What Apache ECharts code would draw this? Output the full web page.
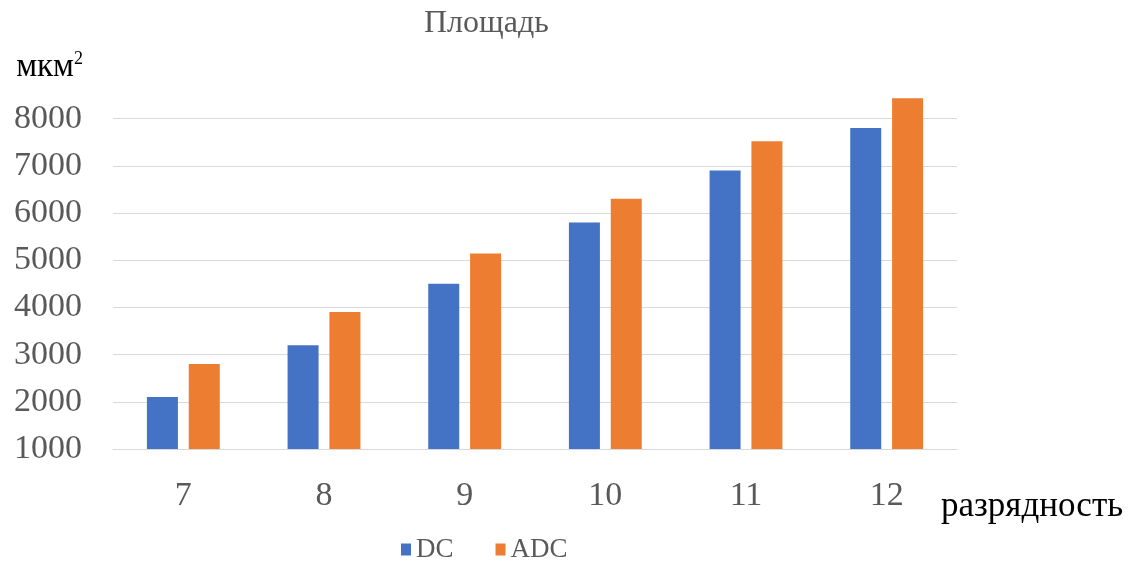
<!DOCTYPE html>
<html>
<head>
<meta charset="utf-8">
<script src="https://cdn.jsdelivr.net/npm/echarts@6/dist/echarts.min.js"></script>
<style>
  html, body { margin: 0; padding: 0; background: #fff; }
  #chart { width: 1143px; height: 570px; }
</style>
</head>
<body>
<div id="chart"></div>
<script>
// Bit depth categories
const categories = ['7', '8', '9', '10', '11', '12'];
// Area, µm²
const dcValues = [2100, 3200, 4500, 5800, 6900, 7800];
const adcValues = [2800, 3900, 5140, 6300, 7520, 8430];
// Y-axis range (top edge leaves headroom above the last labelled line)
const yMin = 1000;
const yMax = 8500;
const yStep = 1000;

const serif = '"Liberation Serif", "Times New Roman", serif';
const grey = '#595959';
const legendText = { fontFamily: serif, fontSize: 27, color: grey };

const chart = echarts.init(document.getElementById('chart'), null, { renderer: 'canvas' });

chart.setOption({
  animation: false,
  backgroundColor: '#fff',
  title: {
    text: 'Площадь',
    left: 419,
    top: 3,
    textStyle: { fontFamily: serif, fontSize: 32, fontWeight: 'normal', color: grey }
  },
  legend: {
    data: [
      { name: 'DC', textStyle: legendText },
      { name: 'ADC', textStyle: legendText }
    ],
    left: 396,
    top: 531,
    icon: 'rect',
    itemWidth: 10,
    itemHeight: 12,
    itemGap: 42,
    textStyle: legendText
  },
  grid: { left: 113, right: 186, top: 95, bottom: 121 },
  xAxis: {
    type: 'category',
    data: categories,
    name: 'разрядность',
    nameLocation: 'end',
    nameGap: -16,
    nameTextStyle: {
      fontFamily: serif, fontSize: 35, color: '#000',
      align: 'left', verticalAlign: 'top', padding: [40, 0, 0, 0]
    },
    axisLine: { show: true, lineStyle: { color: '#d9d9d9', width: 1 } },
    axisTick: { show: false },
    axisLabel: { fontFamily: serif, fontSize: 34, color: grey, margin: 30 }
  },
  yAxis: {
    type: 'value',
    min: yMin,
    max: yMax,
    interval: yStep,
    name: '{a|мкм}{b|2}',
    nameLocation: 'end',
    nameGap: 28,
    nameTextStyle: {
      align: 'right',
      verticalAlign: 'middle',
      padding: [0, 30, 0, 0],
      rich: {
        a: { fontFamily: serif, fontSize: 33, color: '#000' },
        b: { fontFamily: serif, fontSize: 18, color: '#000', verticalAlign: 'top', padding: [0, 0, 12, 0] }
      }
    },
    axisLine: { show: false },
    axisTick: { show: false },
    splitLine: { show: true, showMaxLine: false, lineStyle: { color: '#d9d9d9', width: 1 } },
    axisLabel: {
      fontFamily: serif, fontSize: 34, color: grey, margin: 31,
      showMaxLabel: false,
      formatter: (v) => String(v)
    }
  },
  series: [
    {
      name: 'DC',
      type: 'bar',
      data: dcValues,
      barWidth: 31,
      barGap: '35%',
      itemStyle: { color: '#4472C4' }
    },
    {
      name: 'ADC',
      type: 'bar',
      data: adcValues,
      barWidth: 31,
      barGap: '35%',
      itemStyle: { color: '#ED7D31' }
    }
  ]
});
</script>
</body>
</html>
